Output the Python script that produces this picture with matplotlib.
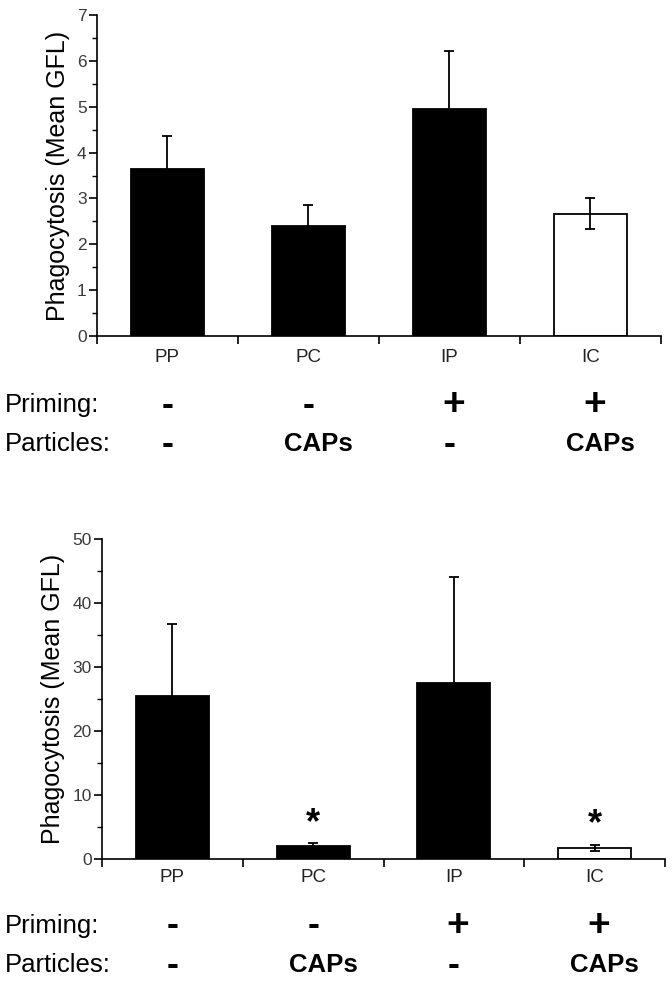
import matplotlib
matplotlib.use("Agg")
import matplotlib.pyplot as plt
import matplotlib.transforms as mtransforms
from matplotlib.ticker import MultipleLocator, FixedLocator, NullFormatter

plt.rcParams["font.family"] = ["Liberation Sans", "DejaVu Sans"]

groups = ["PP", "PC", "IP", "IC"]
priming = ["-", "-", "+", "+"]
particles = ["-", "CAPs", "-", "CAPs"]
bar_colors = ["black", "black", "black", "white"]

# panel A (top)
top_means = [3.65, 2.41, 4.94, 2.67]
top_err = [0.71, 0.45, 1.28, 0.33]

# panel B (bottom)
bot_means = [25.5, 2.07, 27.5, 1.8]
bot_err = [11.2, 0.45, 16.6, 0.5]
bot_stars = ["", "*", "", "*"]

fig = plt.figure(figsize=(6.72, 9.82), dpi=100)
ax_top = fig.add_axes([0.1443, 0.6578, 0.8393, 0.3269])
ax_bot = fig.add_axes([0.1518, 0.1249, 0.8378, 0.3262])

label_col = "#3a3a3a"


def sym_text(trans, x, y, s):
    # plus/minus signs are drawn bigger than the words
    if s == "+":
        fig.text(x + 0.03, y, s, transform=trans, ha="center", va="center",
                 fontsize=28, fontweight="bold")
    elif s == "-":
        fig.text(x, y, s, transform=trans, ha="center", va="center",
                 fontsize=26, fontweight="bold")
    else:
        fig.text(x + 0.07, y, s, transform=trans, ha="center", va="center",
                 fontsize=18.5, fontweight="bold")


def draw_panel(ax, means, errs, ymax, major, minor, row_y, label_y, ylab_x):
    x = list(range(len(groups)))
    ax.bar(x, means, width=0.52, color=bar_colors, edgecolor="black", linewidth=1.3, zorder=2)
    ax.errorbar(x, means, yerr=errs, fmt="none", ecolor="black", elinewidth=1.3,
                capsize=3.5, capthick=1.3, zorder=3)
    ax.set_xlim(-0.5, 3.5)
    ax.set_ylim(0, ymax)
    for s in ["top", "right"]:
        ax.spines[s].set_visible(False)
    for s in ["left", "bottom"]:
        ax.spines[s].set_linewidth(1.2)
    ax.yaxis.set_major_locator(MultipleLocator(major))
    ax.yaxis.set_minor_locator(MultipleLocator(minor))
    ax.tick_params(axis="y", which="major", length=6, width=1.2, labelsize=12.5,
                   labelcolor=label_col, pad=1.5)
    ax.tick_params(axis="y", which="minor", length=3.5, width=1.0)
    ax.xaxis.set_major_locator(FixedLocator([-0.5, 0.5, 1.5, 2.5, 3.5]))
    ax.xaxis.set_major_formatter(NullFormatter())
    ax.tick_params(axis="x", which="major", length=6, width=1.2)

    pos = ax.get_position()
    fig.text(ylab_x, (pos.y0 + pos.y1) / 2, "Phagocytosis (Mean GFL)", rotation=90,
             ha="center", va="center", fontsize=18)

    trans = mtransforms.blended_transform_factory(ax.transData, fig.transFigure)
    for i, g in enumerate(groups):
        fig.text(i, label_y, g, transform=trans, ha="center", va="center", fontsize=13.5,
                 color="#222222")
        sym_text(trans, i, row_y[0], priming[i])
        sym_text(trans, i, row_y[1], particles[i])
    fig.text(5 / 672, row_y[0], "Priming:", ha="left", va="center", fontsize=18.5)
    fig.text(5 / 672, row_y[1], "Particles:", ha="left", va="center", fontsize=18.5)


draw_panel(ax_top, top_means, top_err, 7, 1, 0.5,
           (1 - 405 / 982, 1 - 444 / 982), 1 - 358 / 982, 58 / 672)
draw_panel(ax_bot, bot_means, bot_err, 50, 10, 5,
           (1 - 926 / 982, 1 - 965 / 982), 1 - 878 / 982, 53 / 672)

for i, s in enumerate(bot_stars):
    if s:
        ax_bot.text(i, bot_means[i] + bot_err[i] + 3.1, s, ha="center", va="center",
                    fontsize=26, fontweight="bold")

fig.savefig("out.png", dpi=100)
